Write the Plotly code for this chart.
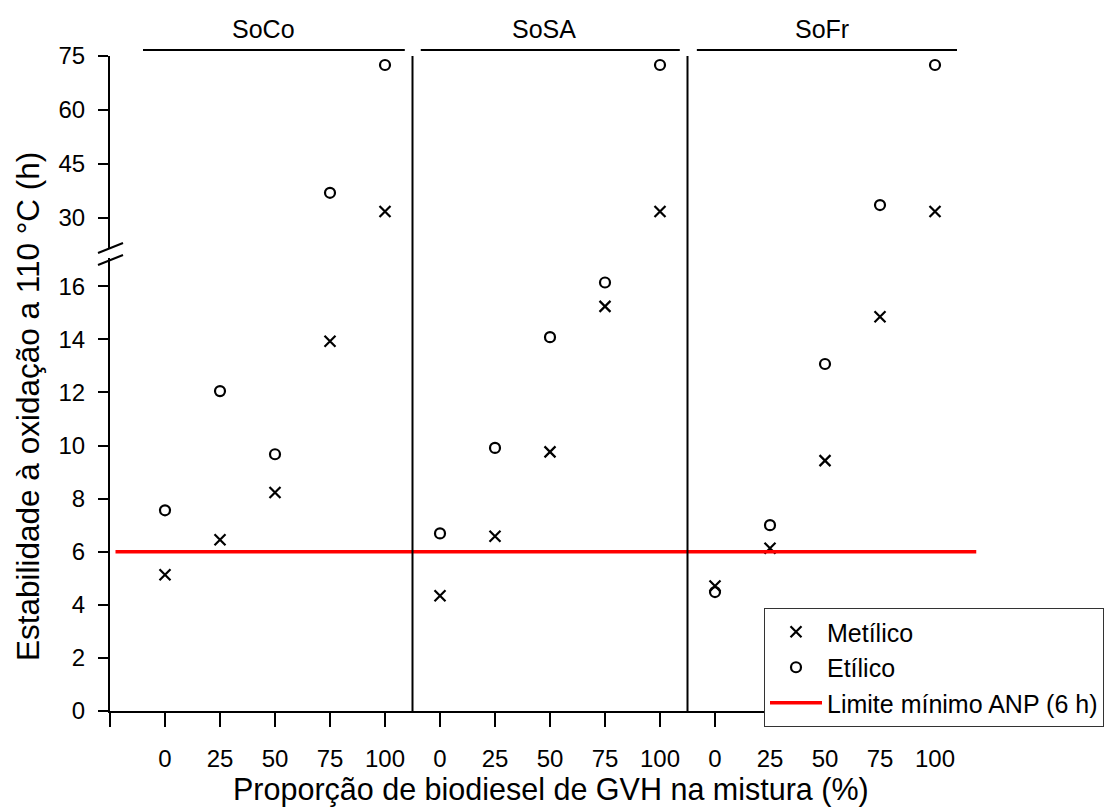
import plotly.graph_objects as go

# ---- data ----
groups = ["SoCo", "SoSA", "SoFr"]
proporcao = [0, 25, 50, 75, 100]
metilico = {
    "SoCo": [5.13, 6.45, 8.23, 13.93, 31.8],
    "SoSA": [4.34, 6.58, 9.76, 15.24, 31.8],
    "SoFr": [4.71, 6.13, 9.43, 14.85, 31.8],
}
etilico = {
    "SoCo": [7.56, 12.05, 9.67, 37.0, 72.5],
    "SoSA": [6.69, 9.91, 14.08, 16.14, 72.5],
    "SoFr": [4.48, 7.00, 13.07, 33.6, 72.5],
}
limite_anp = 6
lower_ticks = [0, 2, 4, 6, 8, 10, 12, 14, 16]
upper_ticks = [30, 45, 60, 75]
BREAK = 17  # values above go to the upper panel

# ---- layout constants ----
W, H = 1113, 807
ML, MR, MT, MB = 110, 123, 56, 96
PH = H - MT - MB  # 655
PW = W - ML - MR  # 880
npos = len(groups) * len(proporcao)
FONT = "Arial, Liberation Sans, sans-serif"


def py(pix):  # pixel y -> paper y
    return (H - MB - pix) / PH


def px(pix):  # pixel x -> paper x
    return (pix - ML) / PW


# positions on a continuous axis
xpos, met_all, eti_all = [], [], []
for g, name in enumerate(groups):
    for i, p in enumerate(proporcao):
        xpos.append(g * len(proporcao) + i + 1)
        met_all.append(metilico[name][i])
        eti_all.append(etilico[name][i])


def split(vals):
    lo = [(x, v) for x, v in zip(xpos, vals) if v <= BREAK]
    hi = [(x, v) for x, v in zip(xpos, vals) if v > BREAK]
    return lo, hi


fig = go.Figure()
marker_x = dict(symbol="x-thin-open", size=11, color="black", line=dict(width=2.2, color="black"))
marker_o = dict(symbol="circle-open", size=10, color="black", line=dict(width=2.2, color="black"))

for label, vals, mk in [("Metílico", met_all, marker_x), ("Etílico", eti_all, marker_o)]:
    lo, hi = split(vals)
    fig.add_trace(go.Scatter(x=[a for a, b in lo], y=[b for a, b in lo], mode="markers",
                             marker=mk, name=label, legendgroup=label, yaxis="y", xaxis="x"))
    fig.add_trace(go.Scatter(x=[a for a, b in hi], y=[b for a, b in hi], mode="markers",
                             marker=mk, name=label, legendgroup=label, showlegend=False,
                             yaxis="y2", xaxis="x"))

fig.add_trace(go.Scatter(x=[0.1, 15.75], y=[limite_anp, limite_anp], mode="lines",
                         line=dict(color="#ff0000", width=3.5),
                         name="Limite mínimo ANP (6 h)", yaxis="y", xaxis="x"))

lo_top = (H - MB - 258) / 26.55
up_bot = 75 - (248 - MT) / 3.6

ticktext = [""] + [str(p) for _ in groups for p in proporcao] + [""]
axis_common = dict(showline=True, linecolor="black", linewidth=2, ticks="outside",
                   tickwidth=2, tickcolor="black", showgrid=False, zeroline=False,
                   tickfont=dict(size=24))
fig.update_layout(
    width=W, height=H,
    margin=dict(l=ML, r=MR, t=MT, b=MB, autoexpand=False),
    paper_bgcolor="white", plot_bgcolor="white",
    font=dict(family=FONT, color="black", size=24),
    showlegend=True,
    xaxis=dict(range=[0, npos + 1], tickvals=list(range(npos + 2)), ticktext=ticktext,
               ticklen=14, anchor="y", ticklabelstandoff=11, **axis_common),
    yaxis=dict(domain=[0, py(258)], range=[0, lo_top], tickvals=lower_ticks,
               ticklen=10, anchor="x", ticklabelstandoff=8, **axis_common),
    yaxis2=dict(domain=[py(248), 1], range=[up_bot, 75], tickvals=upper_ticks,
                ticklen=10, anchor="x", ticklabelstandoff=8, **axis_common),
    legend=dict(x=px(764), y=py(608), xanchor="left", yanchor="top",
                bordercolor="#333", borderwidth=1, bgcolor="white",
                font=dict(size=25), itemwidth=52, tracegroupgap=0),
)

shapes = []
# vertical separators between groups
for g in range(1, len(groups)):
    xs = g * len(proporcao) + 0.5
    shapes.append(dict(type="line", xref="x", yref="paper", x0=xs, x1=xs, y0=0, y1=1,
                       line=dict(color="black", width=2)))
# group header lines
header_spans = [(0.6, 5.36), (5.65, 10.36), (10.67, 15.4)]
for (a, b) in header_spans:
    shapes.append(dict(type="line", xref="x", yref="paper", x0=a, x1=b, y0=py(50), y1=py(50),
                       line=dict(color="black", width=2)))
# axis break marks
shapes.append(dict(type="line", xref="paper", yref="paper", x0=px(98), x1=px(123),
                   y0=py(253), y1=py(243), line=dict(color="black", width=2)))
shapes.append(dict(type="line", xref="paper", yref="paper", x0=px(98), x1=px(123),
                   y0=py(265), y1=py(255), line=dict(color="black", width=2)))
fig.update_layout(shapes=shapes)

annotations = []
centers = [2.79, 7.89, 12.95]
for name, c in zip(groups, centers):
    annotations.append(dict(text=name, x=c, y=py(29), xref="x", yref="paper",
                            showarrow=False, font=dict(size=25), xanchor="center", yanchor="middle"))
annotations.append(dict(text="Estabilidade à oxidação a 110 °C (h)", x=px(28), y=py(407),
                        xref="paper", yref="paper", textangle=-90, showarrow=False,
                        font=dict(size=31.5), xanchor="center", yanchor="middle"))
annotations.append(dict(text="Proporção de biodiesel de GVH na mistura (%)", x=px(551), y=py(789),
                        xref="paper", yref="paper", showarrow=False,
                        font=dict(size=30.5), xanchor="center", yanchor="middle"))
fig.update_layout(annotations=annotations)

fig.write_html("out.html")
